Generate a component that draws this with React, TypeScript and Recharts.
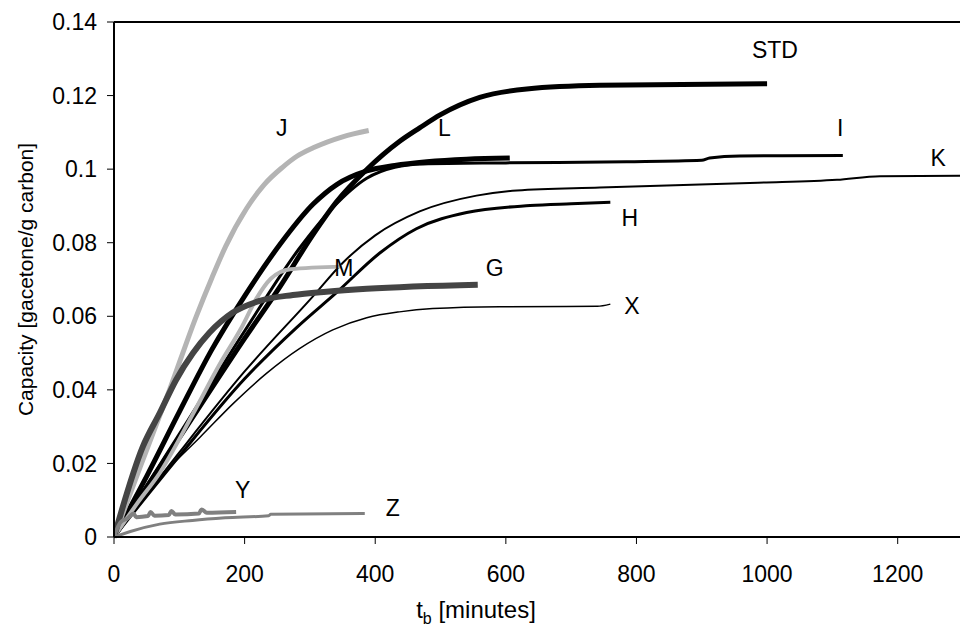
import React from 'react';
import { LineChart, Line, XAxis, YAxis, ReferenceLine, ReferenceDot } from 'recharts';

// axis ticks
const xTicks = [0, 200, 400, 600, 800, 1000, 1200];
const yTicks = [0, 0.02, 0.04, 0.06, 0.08, 0.1, 0.12, 0.14];

// breakthrough curves, t = minutes, c = capacity (g acetone / g carbon)
const stdData = [
  { t: 0, c: 0 }, { t: 100, c: 0.027 }, { t: 200, c: 0.054 }, { t: 254, c: 0.068 },
  { t: 304, c: 0.082 }, { t: 341, c: 0.0912 }, { t: 387, c: 0.0999 }, { t: 437, c: 0.1075 },
  { t: 468, c: 0.1112 }, { t: 500, c: 0.1148 }, { t: 560, c: 0.1195 }, { t: 632, c: 0.1218 },
  { t: 744, c: 0.1228 }, { t: 1000, c: 0.1232 },
];
const lData = [
  { t: 0, c: 0 }, { t: 50, c: 0.0165 }, { t: 100, c: 0.034 }, { t: 150, c: 0.051 },
  { t: 200, c: 0.0655 }, { t: 254, c: 0.0795 }, { t: 305, c: 0.0905 }, { t: 341, c: 0.0958 },
  { t: 387, c: 0.0995 }, { t: 430, c: 0.101 }, { t: 479, c: 0.102 }, { t: 540, c: 0.1027 },
  { t: 606, c: 0.103 },
];
const iData = [
  { t: 0, c: 0 }, { t: 100, c: 0.028 }, { t: 200, c: 0.056 }, { t: 284, c: 0.0785 },
  { t: 335, c: 0.0895 }, { t: 387, c: 0.0975 }, { t: 430, c: 0.1005 }, { t: 473, c: 0.1014 },
  { t: 600, c: 0.1017 }, { t: 785, c: 0.102 }, { t: 900, c: 0.1024 }, { t: 912, c: 0.103 },
  { t: 958, c: 0.1036 }, { t: 1116, c: 0.1037 },
];
const kData = [
  { t: 0, c: 0 }, { t: 100, c: 0.023 }, { t: 200, c: 0.045 }, { t: 305, c: 0.0655 },
  { t: 350, c: 0.0745 }, { t: 400, c: 0.082 }, { t: 468, c: 0.0885 }, { t: 555, c: 0.0928 },
  { t: 617, c: 0.0942 }, { t: 744, c: 0.095 }, { t: 986, c: 0.0963 }, { t: 1107, c: 0.0971 },
  { t: 1173, c: 0.0981 }, { t: 1300, c: 0.0982 },
];
const hData = [
  { t: 0, c: 0 }, { t: 100, c: 0.022 }, { t: 200, c: 0.043 }, { t: 280, c: 0.057 },
  { t: 341, c: 0.0665 }, { t: 407, c: 0.0772 }, { t: 463, c: 0.0838 }, { t: 540, c: 0.0882 },
  { t: 637, c: 0.0901 }, { t: 700, c: 0.0906 }, { t: 760, c: 0.091 },
];
const xData = [
  { t: 0, c: 0 }, { t: 29, c: 0.0095 }, { t: 80, c: 0.0182 }, { t: 131, c: 0.027 },
  { t: 182, c: 0.0362 }, { t: 233, c: 0.0444 }, { t: 284, c: 0.0512 }, { t: 335, c: 0.0563 },
  { t: 387, c: 0.0596 }, { t: 437, c: 0.0612 }, { t: 488, c: 0.0621 }, { t: 591, c: 0.0626 },
  { t: 740, c: 0.0627 }, { t: 760, c: 0.0633 },
];
const jData = [
  { t: 0, c: 0 }, { t: 40, c: 0.019 }, { t: 85, c: 0.04 }, { t: 126, c: 0.06 },
  { t: 150, c: 0.0705 }, { t: 171, c: 0.079 }, { t: 203, c: 0.0893 }, { t: 230, c: 0.0958 },
  { t: 258, c: 0.1005 }, { t: 280, c: 0.1035 }, { t: 305, c: 0.1058 }, { t: 350, c: 0.1088 },
  { t: 390, c: 0.1105 },
];
const mData = [
  { t: 0, c: 0 }, { t: 35, c: 0.009 }, { t: 70, c: 0.0174 }, { t: 121, c: 0.0335 },
  { t: 162, c: 0.047 }, { t: 197, c: 0.0575 }, { t: 218, c: 0.0648 }, { t: 240, c: 0.0702 },
  { t: 270, c: 0.0728 }, { t: 349, c: 0.0735 },
];
const gData = [
  { t: 0, c: 0 }, { t: 44, c: 0.0245 }, { t: 70, c: 0.0337 }, { t: 95, c: 0.0427 },
  { t: 121, c: 0.05 }, { t: 146, c: 0.0555 }, { t: 182, c: 0.061 }, { t: 223, c: 0.0642 },
  { t: 274, c: 0.0658 }, { t: 325, c: 0.0667 }, { t: 387, c: 0.0675 }, { t: 557, c: 0.0686 },
];
const yData = [
  { t: 0, c: 0 }, { t: 10, c: 0.004 }, { t: 22, c: 0.0052 }, { t: 30, c: 0.0064 },
  { t: 34, c: 0.0054 }, { t: 52, c: 0.0057 }, { t: 56, c: 0.0068 }, { t: 62, c: 0.0058 },
  { t: 84, c: 0.006 }, { t: 88, c: 0.0071 }, { t: 94, c: 0.0061 }, { t: 130, c: 0.0064 },
  { t: 134, c: 0.0075 }, { t: 142, c: 0.0066 }, { t: 187, c: 0.0068 },
];
const zData = [
  { t: 0, c: 0 }, { t: 25, c: 0.0015 }, { t: 70, c: 0.0035 }, { t: 120, c: 0.0045 },
  { t: 170, c: 0.0052 }, { t: 237, c: 0.0058 }, { t: 240, c: 0.0062 }, { t: 384, c: 0.0064 },
];

// curve names placed next to the curves
const curveLabels = [
  { name: 'STD', t: 1012, c: 0.1325 },
  { name: 'J', t: 257, c: 0.1113 },
  { name: 'L', t: 506, c: 0.1113 },
  { name: 'I', t: 1112, c: 0.1113 },
  { name: 'K', t: 1262, c: 0.1031 },
  { name: 'H', t: 790, c: 0.0868 },
  { name: 'M', t: 352, c: 0.0732 },
  { name: 'G', t: 583, c: 0.0732 },
  { name: 'X', t: 793, c: 0.0629 },
  { name: 'Y', t: 197, c: 0.0128 },
  { name: 'Z', t: 427, c: 0.0079 },
];

const series = [
  { key: 'X', data: xData, color: '#000000', width: 1.5 },
  { key: 'K', data: kData, color: '#000000', width: 2 },
  { key: 'H', data: hData, color: '#000000', width: 3 },
  { key: 'I', data: iData, color: '#000000', width: 3 },
  { key: 'STD', data: stdData, color: '#000000', width: 5 },
  { key: 'L', data: lData, color: '#000000', width: 5 },
  { key: 'J', data: jData, color: '#b4b4b4', width: 5 },
  { key: 'M', data: mData, color: '#b4b4b4', width: 4 },
  { key: 'G', data: gData, color: '#444444', width: 6 },
  { key: 'Z', data: zData, color: '#808080', width: 3 },
  { key: 'Y', data: yData, color: '#808080', width: 4 },
];

const FONT = '"Liberation Sans", Arial, sans-serif';

const YTitle = (props: any) => {
  const vb = props.viewBox || {};
  const cy = vb.y + vb.height / 2;
  return (
    <text x={25} y={cy} transform={`rotate(-90, 25, ${cy})`} textAnchor="middle"
      dominantBaseline="central" fontSize={21} fill="#000" fontFamily={FONT}>
      Capacity [gacetone/g carbon]
    </text>
  );
};

const XTitle = () => (
  <text x={476} y={618} textAnchor="middle" fontSize={24} fill="#000" fontFamily={FONT}>
    t<tspan fontSize={16} dy={6}>b</tspan><tspan dy={-6}> [minutes]</tspan>
  </text>
);

export default function App() {
  return (
    <div style={{ position: 'absolute', left: 0, top: 0, width: 960, height: 634, overflow: 'hidden', background: '#fff' }}>
      <LineChart width={970} height={634} margin={{ top: 22, right: 7, left: 0, bottom: 0 }}
        style={{ fontFamily: FONT }}>
        <XAxis dataKey="t" type="number" domain={[0, 1300]} ticks={xTicks} allowDataOverflow
          height={97} axisLine={{ stroke: '#000', strokeWidth: 2 }} tickLine={{ stroke: '#000' }}
          tickSize={7} tick={{ fill: '#000', fontSize: 23, fontFamily: FONT, dy: 20 }}
          label={{ content: XTitle }} />
        <YAxis dataKey="c" type="number" domain={[0, 0.14]} ticks={yTicks} width={114}
          axisLine={{ stroke: '#000', strokeWidth: 2 }} tickLine={{ stroke: '#000' }}
          tickSize={7} tick={{ fill: '#000', fontSize: 23, fontFamily: FONT, dx: -8 }}
          label={{ content: YTitle }} />
        <ReferenceLine y={0.14} stroke="#000" strokeWidth={2} />
        {series.map((s) => (
          <Line key={s.key} data={s.data} dataKey="c" type="monotone" stroke={s.color}
            strokeWidth={s.width} dot={false} isAnimationActive={false} />
        ))}
        {curveLabels.map((l) => (
          <ReferenceDot key={l.name} x={l.t} y={l.c} r={0} fill="none" stroke="none"
            label={{ value: l.name, position: 'center', fontSize: 23, fill: '#000', fontFamily: FONT }} />
        ))}
      </LineChart>
    </div>
  );
}
